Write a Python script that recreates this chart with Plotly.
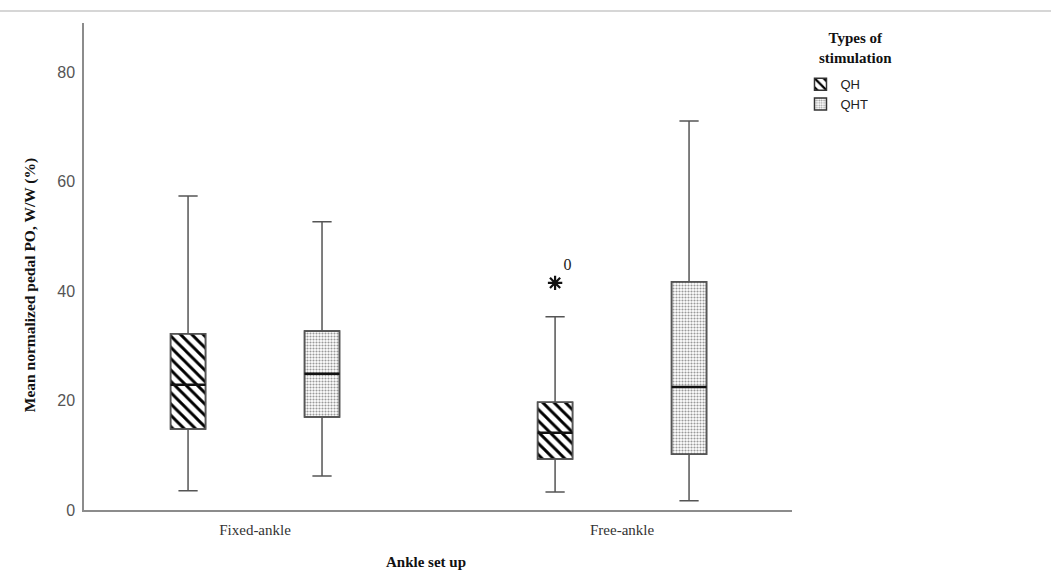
import plotly.graph_objects as go

# Ankle set-up groups and stimulation types
setups = ["Fixed-ankle", "Free-ankle"]
stim_types = ["QH", "QHT"]

# Box-plot summary statistics (mean normalized pedal PO, W/W %)
qh_lower = [3.5, 3.3]
qh_q1 = [14.8, 9.3]
qh_median = [22.9, 14.1]
qh_q3 = [32.2, 19.7]
qh_upper = [57.4, 35.3]
qh_outlier = [None, 41.5]
qh_outlier_label = [None, "0"]

qht_lower = [6.2, 1.7]
qht_q1 = [17.0, 10.2]
qht_median = [24.9, 22.5]
qht_q3 = [32.7, 41.7]
qht_upper = [52.7, 71.1]
qht_outlier = [None, None]
qht_outlier_label = [None, None]

y_ticks = [0, 20, 40, 60, 80]

SERIF = "Liberation Serif"
SANS = "Liberation Sans"
LINE = "#555555"

patterns = {
    "QH": dict(shape="\\", fgcolor="#000000", bgcolor="white", size=8,
               solidity=0.36, fgopacity=1),
    "QHT": dict(shape=".", fgcolor="#9a9a9a", bgcolor="white", size=3,
                solidity=0.4, fgopacity=1),
}

stats = {
    "QH": (qh_lower, qh_q1, qh_median, qh_q3, qh_upper, qh_outlier, qh_outlier_label),
    "QHT": (qht_lower, qht_q1, qht_median, qht_q3, qht_upper, qht_outlier, qht_outlier_label),
}

fig = go.Figure()

# Patterned fill of the interquartile range, drawn as floating bars
for name in stim_types:
    lo, q1, med, q3, up, _, _ = stats[name]
    fig.add_trace(go.Bar(
        x=setups,
        y=[b - a for a, b in zip(q1, q3)],
        base=q1,
        name=name,
        marker=dict(color="white", pattern=patterns[name],
                    line=dict(color="#333333", width=1.5)),
        offsetgroup=name,
        hoverinfo="skip",
    ))

# Whiskers and box outline
for name in stim_types:
    lo, q1, med, q3, up, _, _ = stats[name]
    fig.add_trace(go.Box(
        x=setups,
        q1=q1, median=med, q3=q3,
        lowerfence=lo, upperfence=up,
        name=name,
        offsetgroup=name,
        fillcolor="rgba(0,0,0,0)",
        line=dict(color=LINE, width=1.5),
        whiskerwidth=0.55,
        boxpoints=False,
        showlegend=False,
    ))

# Heavier median line: a zero-height box drawn at each median
for name in stim_types:
    _, _, med, _, _, _, _ = stats[name]
    fig.add_trace(go.Box(
        x=setups,
        q1=med, median=med, q3=med,
        lowerfence=med, upperfence=med,
        name=name,
        offsetgroup=name,
        fillcolor="rgba(0,0,0,0)",
        line=dict(color="#111111", width=2.5),
        whiskerwidth=0,
        boxpoints=False,
        showlegend=False,
        hoverinfo="skip",
    ))

# Extreme values with their case labels
for name in stim_types:
    _, _, _, _, _, out, lab = stats[name]
    fig.add_trace(go.Scatter(
        x=setups, y=out, text=lab,
        mode="markers+text",
        textposition="top right",
        textfont=dict(family=SERIF, size=16, color="#222222"),
        marker=dict(symbol="asterisk-open", size=12, color="#111111",
                    line=dict(color="#111111", width=2.2)),
        offsetgroup=name,
        showlegend=False,
        hoverinfo="skip",
    ))

fig.update_layout(
    width=1051, height=577,
    margin=dict(l=84, r=259, t=23, b=67),
    paper_bgcolor="white", plot_bgcolor="white",
    barmode="group", bargap=0.27, bargroupgap=0.739,
    boxmode="group", boxgap=0.27, boxgroupgap=0.739,
    scattermode="group", scattergap=0.27,
    showlegend=True,
    legend=dict(
        font=dict(family=SANS, size=13, color="#222222"),
        x=1.012, xanchor="left", y=0.905, yanchor="top",
        itemwidth=30, tracegroupgap=0,
        bgcolor="rgba(0,0,0,0)",
    ),
    xaxis=dict(
        range=[-0.466, 1.463],
        showline=True, linecolor="#8c8c8c", linewidth=1.5,
        ticks="", showgrid=False, zeroline=False,
        ticklabelstandoff=5,
        tickfont=dict(family=SERIF, size=15, color="#333333"),
    ),
    yaxis=dict(
        range=[0, 89],
        tickvals=y_ticks,
        showline=True, linecolor="#8c8c8c", linewidth=1.5,
        ticks="", showgrid=False, zeroline=False,
        ticklabelstandoff=4,
        tickfont=dict(family=SANS, size=16, color="#555555"),
    ),
    annotations=[
        dict(text="<b>Types of<br>stimulation</b>", xref="paper", yref="paper",
             x=1.09, y=0.99, xanchor="center", yanchor="top", showarrow=False,
             font=dict(family=SERIF, size=15, color="#111111")),
        dict(text="<b>Ankle set up</b>", xref="paper", yref="paper",
             x=0.483, y=-0.107, xanchor="center", yanchor="middle", showarrow=False,
             font=dict(family=SERIF, size=15, color="#111111")),
        dict(text="<b>Mean normalized pedal PO, W/W (%)</b>", xref="paper", yref="paper",
             x=-0.076, y=0.462, xanchor="center", yanchor="middle", showarrow=False,
             textangle=-90,
             font=dict(family=SERIF, size=15.5, color="#111111")),
    ],
    shapes=[dict(type="line", xref="paper", yref="paper",
                 x0=-0.2, x1=1.5, y0=1.0246, y1=1.0246,
                 line=dict(color="#c8c8c8", width=1.5))],
)

fig.write_html("out.html")
